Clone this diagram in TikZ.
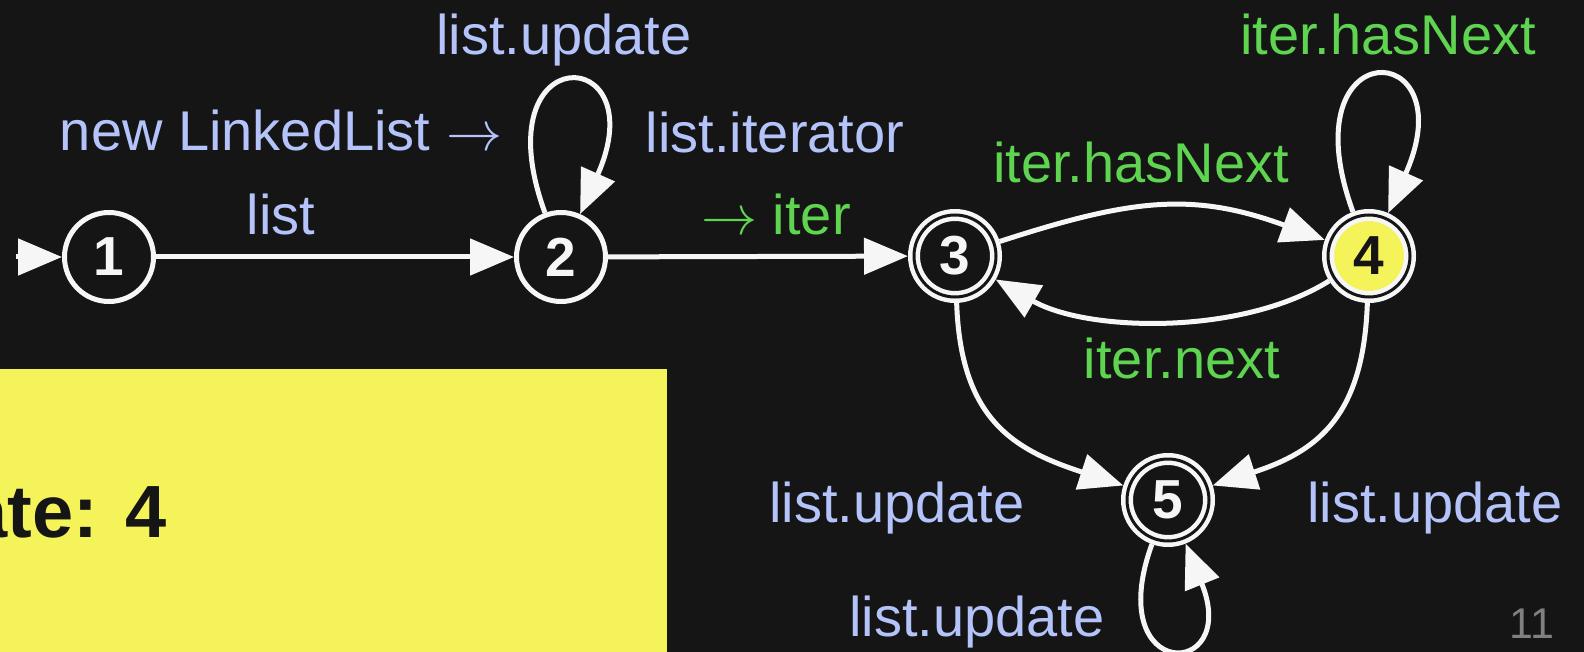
\documentclass[tikz,border=0pt]{standalone}
\usepackage{fontspec}
\setmainfont{Liberation Sans}
\usetikzlibrary{arrows.meta}
\definecolor{bgc}{RGB}{21,21,21}
\definecolor{ylw}{RGB}{245,243,90}
\definecolor{lblue}{RGB}{180,196,250}
\definecolor{lgreen}{RGB}{94,212,80}
\definecolor{edgew}{RGB}{246,246,246}
\definecolor{pgc}{RGB}{128,128,128}
\newcommand{\bigarr}{\scalebox{5.6}{\normalsize$\rightarrow$}}
\begin{document}
\begin{tikzpicture}[x=1pt,y=1pt,
  every node/.style={inner sep=0pt, outer sep=0pt},
  state/.style={circle, draw=edgew, line width=5pt, fill=bgc, minimum size=89pt,
    outer sep=2.5pt, text=edgew, font=\fontsize{55}{55}\selectfont\bfseries},
  acc/.style={state, line width=4.5pt, double=bgc, double distance=3pt, minimum size=82pt, outer sep=6pt},
  lbl/.style={anchor=base, font=\fontsize{56}{56}\selectfont},
  blu/.style={lbl, text=lblue},
  grn/.style={lbl, text=lgreen},
  trans/.style={draw=edgew, line width=5pt, -{Triangle[length=44pt,width=36pt]}},
]
\useasboundingbox (0,0) rectangle (1584,-652);
\fill[bgc] (0,0) rectangle (1584,-652);
\fill[ylw] (0,-369) rectangle (667,-652);
\node[anchor=base east, font=\fontsize{74}{74}\selectfont\bfseries, text=bgc] (stt) at (167,-537) {ate: 4};

\node[state] (n1) at (109,-257) {1};
\node[state] (n2) at (561,-257) {2};
\node[acc] (n3) at (955,-256) {3};
\node[acc, fill=ylw, text=bgc] (n4) at (1369,-256) {4};
\node[acc] (n5) at (1168,-500) {5};
\coordinate (start) at (16,-257);

\draw[trans] (start) -- (n1);
\draw[trans] (n1) -- (n2);
\draw[trans] (n2) -- (n3);
\draw[trans] (n3) to[out=18,in=160,looseness=1.1] (n4);
\draw[trans] (n4) to[out=212,in=330,looseness=0.8] (n3);
\draw[trans] (n2) to[out=110,in=66,min distance=188pt] (n2);
\draw[trans] (n4) to[out=110,in=66,min distance=194pt] (n4);
\draw[trans] (n5) to[out=250,in=292,min distance=148pt] (n5);
\draw[trans] (n3) to[out=-88,in=162,looseness=1.2] (n5);
\draw[trans] (n4) to[out=-92,in=18,looseness=1.2] (n5);

\node[blu] (l12a) at (281,-151) {new LinkedList \bigarr};
\node[blu] (l12b) at (281,-235) {list};
\node[blu] (l22) at (564,-55) {list.update};
\node[blu] (l23a) at (775,-153) {list.iterator};
\node[grn] (l23b) at (776,-235) {\bigarr{} iter};
\node[grn] (l34) at (1141,-183) {iter.hasNext};
\node[grn] (l44) at (1388,-55) {iter.hasNext};
\node[grn] (l43) at (1182,-378) {iter.next};
\node[blu] (l35) at (897,-522) {list.update};
\node[blu] (l45) at (1435,-522) {list.update};
\node[blu] (l55) at (977,-636) {list.update};
\node[anchor=base, font=\fontsize{43}{43}\selectfont, text=pgc] (pg) at (1532,-638) {11};
\end{tikzpicture}
\end{document}
